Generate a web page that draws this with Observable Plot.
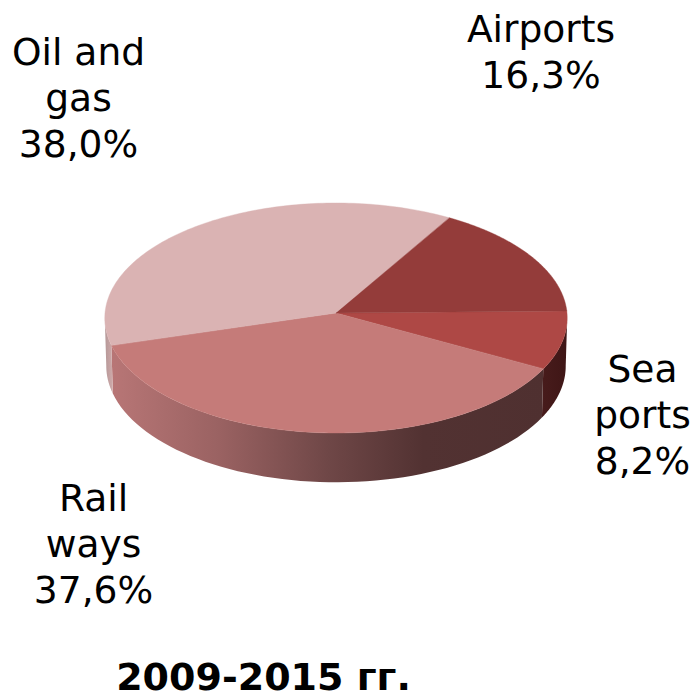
<!DOCTYPE html>
<html><head><meta charset="utf-8">
<style>html,body{margin:0;padding:0;background:#fff}svg{display:block}</style>
<script src="https://cdn.jsdelivr.net/npm/d3@7"></script>
<script src="https://cdn.jsdelivr.net/npm/@observablehq/plot@0.6"></script>
</head><body><div id="c"></div>
<script>
const categories = ["Sea ports", "Rail ways", "Oil and gas", "Airports"];
const values = [8.2, 37.6, 38.0, 16.3];
const topColors = ["#ae4845", "#c57b79", "#dab3b3", "#943c3a"];
const labelTexts = ["Sea\nports\n8,2%", "Rail\nways\n37,6%", "Oil and\ngas\n38,0%", "Airports\n16,3%"];
const labelX = [642, 93, 78, 540.5];
const labelY = [413, 542, 96, 50];
const title = "2009-2015 гг.";

// pie view: a disc seen in slight perspective
const cx = 336, cy = 313, R = 231, S = 114.8, k = 0.0435, startDeg = -1;
const depthY = 48, bottomR = 229.5, bottomS = 116;
const rad = d => d * Math.PI / 180;
const topPt = a => { const w = 1 - k * Math.sin(a); return [cx + R * Math.cos(a) / w, cy + S * Math.sin(a) / w]; };
const botPt = a => { const w = 1 - k * Math.sin(a); return [cx + bottomR * Math.cos(a) / w, cy + depthY + bottomS * Math.sin(a) / w]; };

let acc = startDeg;
const slices = categories.map((name, i) => {
  const a0 = acc, a1 = acc + values[i] * 3.6; acc = a1;
  return {name, a0, a1, color: topColors[i]};
});
slices[3].a1 = slices[0].a0 + 360;

const topRows = slices.flatMap(s => d3.range(0, 121).map(j => {
  const a = rad(s.a0 + (s.a1 - s.a0) * j / 120), [x, y] = topPt(a);
  return {name: s.name, color: s.color, x, y};
}));

// side walls: one band per visible slice, filled with a horizontal gradient
const gradients = [
  {id: "side-sea", from: 543, to: 567, stops: [[0, "#471b1b"], [1, "#3f1616"]]},
  {id: "side-rail", from: 111, to: 545, stops: [[0, "#b87676"], [0.25, "#9a6262"], [0.5, "#6f4747"], [0.72, "#523232"], [1, "#4f3030"]]},
  {id: "side-oil", from: 105, to: 113, stops: [[0, "#b59898"], [1, "#d0aaaa"]]}
];
const spans = [
  ["side-sea", 2.5, slices[0].a1],
  ["side-rail", slices[1].a0, slices[1].a1],
  ["side-oil", slices[2].a0, 177.5]
];
const sideRows = spans.flatMap(([id, a0, a1]) => d3.range(0, 61).map(j => {
  const a = rad(a0 + (a1 - a0) * j / 60);
  const [x1, y1] = topPt(a), [x2, y2] = botPt(a);
  return {id, x1, y1, x2, y2};
}));

function defsMark() {
  const defs = d3.create("svg:defs");
  for (const g of gradients) {
    const lg = defs.append("linearGradient").attr("id", g.id).attr("gradientUnits", "userSpaceOnUse")
      .attr("x1", g.from).attr("x2", g.to).attr("y1", 0).attr("y2", 0);
    for (const [o, c] of g.stops) lg.append("stop").attr("offset", o).attr("stop-color", c);
  }
  return defs.node();
}

const labels = labelTexts.map((text, i) => ({text, x: labelX[i], y: labelY[i]}));

document.getElementById("c").append(Plot.plot({
  width: 696, height: 693, margin: 0,
  style: {background: "#fff"},
  x: {domain: [0, 696], axis: null},
  y: {domain: [693, 0], axis: null},
  color: {type: "identity"},
  marks: [
    defsMark,
    ...gradients.map(g => Plot.area(sideRows.filter(d => d.id === g.id), {x1: "x1", y1: "y1", x2: "x2", y2: "y2", fill: `url(#${g.id})`, curve: "linear"})),
    Plot.area(topRows, {x1: "x", y1: "y", x2: () => cx, y2: () => cy, z: "name", fill: "color", stroke: "color", strokeWidth: 0.4, curve: "linear"}),
    Plot.text(labels, {x: "x", y: "y", text: "text", fontFamily: "DejaVu Sans", fontSize: 37.6, lineHeight: 1.22, fill: "#000", textAnchor: "middle"}),
    Plot.text([title], {x: [263], y: [677], text: d => d, fontFamily: "DejaVu Sans", fontSize: 38, fontWeight: "bold", fill: "#000", textAnchor: "middle"})
  ]
}));
</script></body></html>
